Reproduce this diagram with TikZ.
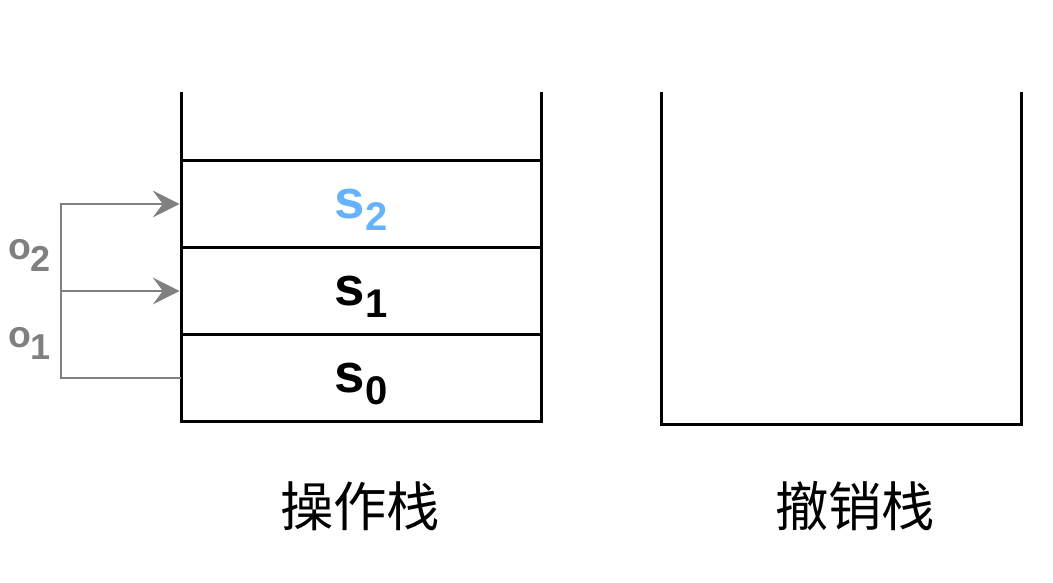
\documentclass[tikz,border=0pt]{standalone}
\usepackage{fontspec}
\setmainfont{Liberation Sans}
\newfontfamily\cjk{Noto Sans CJK SC}
\usetikzlibrary{arrows.meta}
\definecolor{opgray}{RGB}{128,128,128}
\definecolor{topblue}{RGB}{102,178,255}
\newcommand{\slbl}[2]{{\fontsize{41pt}{41pt}\selectfont #1}\raisebox{-9pt}{\fontsize{30pt}{30pt}\selectfont #2}}
\newcommand{\olbl}[2]{{\fontsize{28pt}{28pt}\selectfont #1}\raisebox{-9pt}{\fontsize{27pt}{27pt}\selectfont #2}}
\tikzset{every picture/.style={line width=2.25pt},
  cell/.style={draw, minimum width=270pt, minimum height=65.25pt, inner sep=0pt, outer sep=0pt},
  oplink/.style={draw=opgray, line width=1.9pt, shorten >=1.1pt, -{Stealth[length=20pt,width=20pt,inset=7.5pt]}},
  statelbl/.style={inner sep=0pt, font=\bfseries},
  stackname/.style={inner sep=0pt, font={\cjk\fontsize{40pt}{40pt}\selectfont}}}

\begin{document}
\begin{tikzpicture}[x=0.75pt,y=0.75pt,yscale=-1,xscale=1]
      \useasboundingbox (0,0) rectangle (1053,582);

      %Shape: operation stack cells
      \node [cell] (c0) at (361,378) {};
      \node [cell] (c1) at (361,291) {};
      \node [cell] (c2) at (361,204) {};
      %Straight Lines: open top of the stack
      \draw (c2.north west) -- ++(0,-68.5);
      \draw (c2.north east) -- ++(0,-68.5);
      %Shape: undo stack
      \draw (661,92) -- (661,424) -- (1021,424) -- (1021,92);

      %Straight Lines: operations
      \coordinate (bend) at (61,291);
      \draw [oplink] (c0.west) -| (bend) -- (c1.west);
      \draw [oplink] (bend) |- (c2.west);

      % Text Node
      \node [statelbl, text=topblue] (s2) at ([yshift=4.5pt]c2.center) {\slbl{s}{2}};
      % Text Node
      \node [statelbl] (s1) at ([yshift=4.5pt]c1.center) {\slbl{s}{1}};
      % Text Node
      \node [statelbl] (s0) at ([yshift=4.5pt]c0.center) {\slbl{s}{0}};
      % Text Node
      \node [statelbl, text=opgray, anchor=west] (o2) at (6.5,255) {\olbl{o}{2}};
      % Text Node
      \node [statelbl, text=opgray, anchor=west] (o1) at (6.5,343) {\olbl{o}{1}};
      % Text Node
      \node [stackname] (opname) at (360,506.5) {操作栈};
      % Text Node
      \node [stackname] (undoname) at (855,506) {撤销栈};
\end{tikzpicture}
\end{document}
